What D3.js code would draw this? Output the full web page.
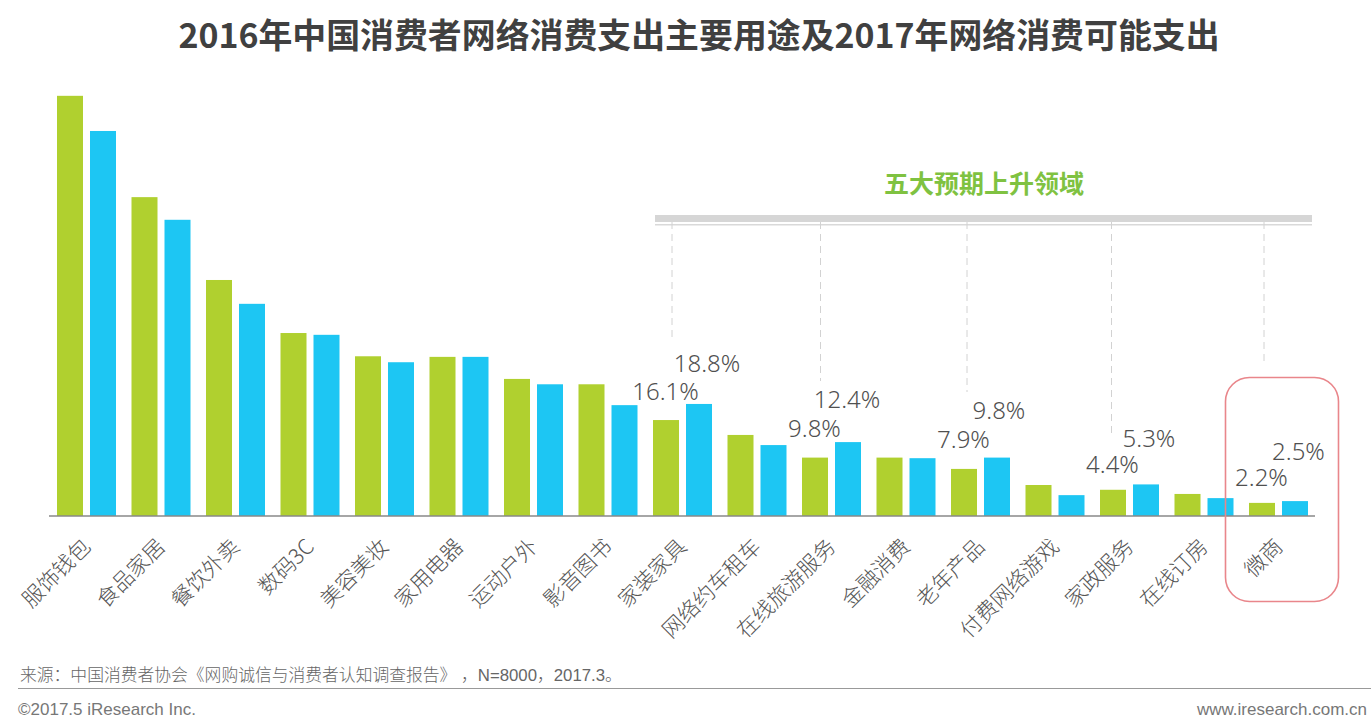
<!DOCTYPE html>
<html>
<head>
<meta charset="utf-8">
<script src="https://cdnjs.cloudflare.com/ajax/libs/d3/7.8.5/d3.min.js"></script>
<style>
  html, body { margin: 0; padding: 0; background: #fff; overflow: hidden; }
  text { font-family: "Noto Sans CJK SC", "Noto Sans", sans-serif; }
</style>
</head>
<body>
<div id="vis"></div>
<script>
// Data (percent)
const categories = ["服饰钱包", "食品家居", "餐饮外卖", "数码3C", "美容美妆", "家用电器", "运动户外", "影音图书", "家装家具",
    "网络约车租车", "在线旅游服务", "金融消费", "老年产品", "付费网络游戏", "家政服务", "在线订房", "微商"];
const values2016 = [70.5, 53.5, 39.6, 30.7, 26.8, 26.7, 23.0, 22.1, 16.1, 13.6, 9.8, 9.8, 7.9, 5.2, 4.4, 3.7, 2.2];
const values2017 = [64.6, 49.7, 35.6, 30.4, 25.8, 26.7, 22.1, 18.6, 18.8, 11.9, 12.4, 9.7, 9.8, 3.5, 5.3, 3.0, 2.5];
const labelled = ["家装家具", "在线旅游服务", "老年产品", "家政服务", "微商"];
const titleText = "2016年中国消费者网络消费支出主要用途及2017年网络消费可能支出";
const calloutText = "五大预期上升领域";
const sourceText = "来源：中国消费者协会《网购诚信与消费者认知调查报告》 ，N=8000，2017.3。";

const width = 1371, height = 728;
const baseY = 516, pxPerPct = 5.96;
const green = "#b0d02f", blue = "#1dc6f3";

const svg = d3.select("#vis").append("svg")
    .attr("width", width)
    .attr("height", height);

const x = d3.scaleBand().domain(categories).range([57, 1308]).paddingInner(15.5 / 74.5);
const x1 = d3.scaleBand().domain([0, 1]).range([0, x.bandwidth()]).paddingInner(7 / 33);
const y = d3.scaleLinear().domain([0, 80]).range([baseY, baseY - 80 * pxPerPct]);

// Bars
[values2016, values2017].forEach((vals, s) => {
    svg.append("g").selectAll("rect")
        .data(categories)
        .join("rect")
        .attr("x", d => x(d) + x1(s))
        .attr("y", (d, i) => y(vals[i]))
        .attr("width", x1.bandwidth())
        .attr("height", (d, i) => baseY - y(vals[i]))
        .attr("fill", s === 0 ? green : blue);
});

// Axis
const axis = svg.append("g")
    .attr("transform", `translate(0,${baseY})`)
    .call(d3.axisBottom(x).tickSize(0).tickPadding(0));
axis.select(".domain").remove();
axis.selectAll("text")
    .attr("font-size", 21.5)
    .attr("font-weight", 300)
    .attr("fill", "#555")
    .style("font-family", '"Noto Sans CJK SC", sans-serif')
    .attr("text-anchor", "end")
    .attr("dy", 0)
    .attr("y", 0)
    .attr("transform", `translate(5.5,32) rotate(-45)`);
svg.append("line")
    .attr("x1", 49).attr("x2", 1315)
    .attr("y1", baseY).attr("y2", baseY)
    .attr("stroke", "#888").attr("stroke-width", 1.5);

// Callout header
svg.append("text")
    .attr("x", 984).attr("y", 193)
    .attr("text-anchor", "middle")
    .attr("font-size", 25).attr("font-weight", 700)
    .attr("fill", "#7fc241")
    .text(calloutText);
svg.append("rect").attr("x", 655).attr("y", 215).attr("width", 657).attr("height", 7).attr("fill", "#d6d6d6");
svg.append("rect").attr("x", 655).attr("y", 224).attr("width", 657).attr("height", 1.5).attr("fill", "#d9d9d9");

// Leader lines and percent labels for the five rising categories
const leaderX = [672, 820.5, 967, 1111.5, 1264];
const leaderEnd = [342, 381, 392, 433, 361];
const labelDx = [[-17, 24.5], [-17, 15.5], [-17, 18.5], [-17, 19.5], [-17, 20]];
const lift = [[20, 32], [21, 34], [21, 39], [17, 37], [17, 41]];
labelled.forEach((c, k) => {
    svg.append("line")
        .attr("x1", leaderX[k]).attr("x2", leaderX[k])
        .attr("y1", 222).attr("y2", leaderEnd[k])
        .attr("stroke", "#d2d2d2").attr("stroke-dasharray", "7 5");
    const i = categories.indexOf(c);
    [values2016[i], values2017[i]].forEach((v, s) => {
        svg.append("text")
            .attr("x", x(c) + x.bandwidth() / 2 + labelDx[k][s])
            .attr("y", y(v) - lift[k][s])
            .attr("text-anchor", "middle")
            .attr("font-size", 24).attr("font-weight", 300)
            .attr("fill", "#505050")
            .style("font-family", '"Noto Sans", sans-serif')
            .text(v.toFixed(1) + "%");
    });
});

// Red highlight box around the last category
svg.append("rect")
    .attr("x", 1225.5).attr("y", 377.5)
    .attr("width", 113).attr("height", 224)
    .attr("rx", 24)
    .attr("fill", "none")
    .attr("stroke", "#e9868b").attr("stroke-width", 1.6);

// Title
svg.append("text")
    .attr("x", 699).attr("y", 48)
    .attr("text-anchor", "middle")
    .attr("font-size", 33.9).attr("font-weight", 700)
    .attr("fill", "#404040")
    .text(titleText);

// Footer
svg.append("text")
    .attr("x", 20).attr("y", 681)
    .attr("font-size", 16.8).attr("font-weight", 300)
    .attr("fill", "#666")
    .style("font-family", '"Liberation Sans", "Noto Sans CJK SC", sans-serif')
    .text(sourceText);
svg.append("line")
    .attr("x1", 18).attr("x2", 1371)
    .attr("y1", 688.5).attr("y2", 688.5)
    .attr("stroke", "#999").attr("stroke-width", 1);
svg.append("text")
    .attr("x", 18).attr("y", 715)
    .attr("font-size", 17).attr("fill", "#777")
    .style("font-family", '"Liberation Sans", sans-serif')
    .text("©2017.5 iResearch  Inc.");
svg.append("text")
    .attr("x", 1367).attr("y", 715)
    .attr("text-anchor", "end")
    .attr("font-size", 17).attr("fill", "#777")
    .style("font-family", '"Liberation Sans", sans-serif')
    .text("www.iresearch.com.cn");
</script>
</body>
</html>
